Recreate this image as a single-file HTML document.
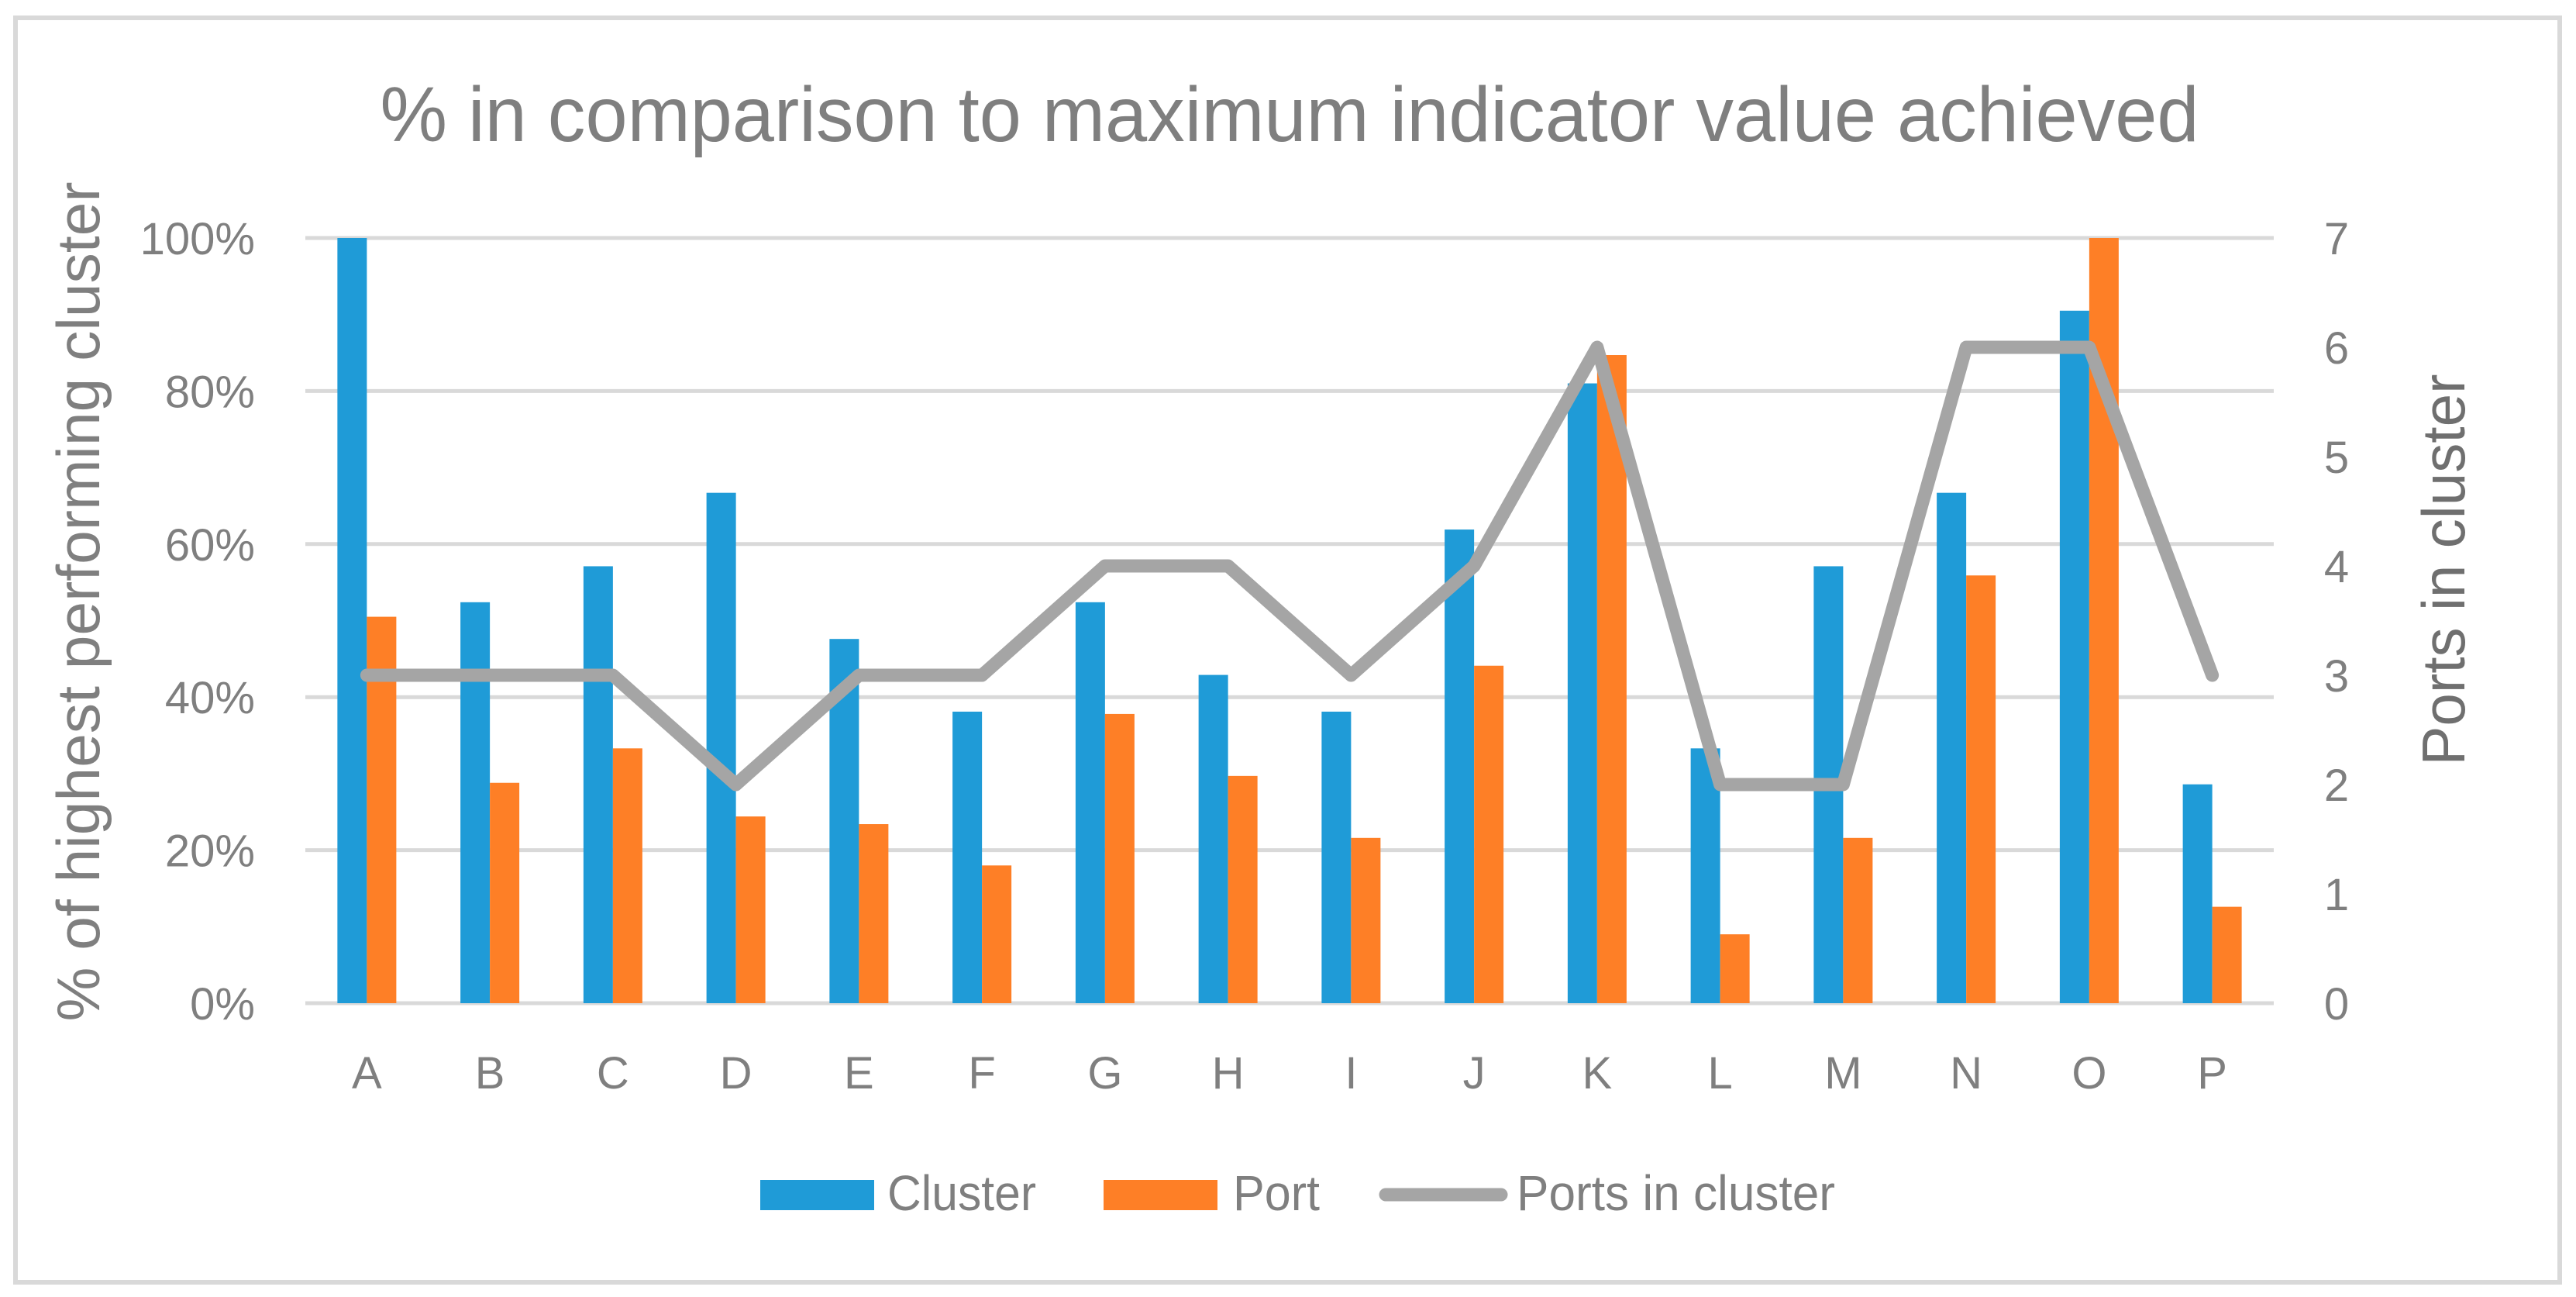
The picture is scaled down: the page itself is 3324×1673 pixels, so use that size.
<!DOCTYPE html>
<html><head><meta charset="utf-8"><style>
html,body{margin:0;padding:0;background:#fff;}
svg{display:block;}
text{font-family:"Liberation Sans Narrow","Liberation Sans",sans-serif;fill:#7f7f7f;}
.tick{font-family:"Liberation Sans",sans-serif;font-size:58px;}
</style></head><body>
<svg id="chart" width="3324" height="1673" viewBox="0 0 3324 1673" xmlns="http://www.w3.org/2000/svg">
<rect x="20" y="23" width="3283" height="1631" fill="#fff" stroke="#d9d9d9" stroke-width="6"/>
<text x="1664" y="182" text-anchor="middle" font-size="100" textLength="2347" lengthAdjust="spacingAndGlyphs">% in comparison to maximum indicator value achieved</text>
<g id="grid"></g>
<g id="bars"></g>
<g id="line"></g>
<g id="ticks"></g>
<text transform="translate(128,776) rotate(-90)" text-anchor="middle" font-size="78" textLength="1083" lengthAdjust="spacingAndGlyphs">%  of highest performing cluster</text>
<text transform="translate(3180,735) rotate(-90)" text-anchor="middle" font-size="78" textLength="505" lengthAdjust="spacingAndGlyphs" style="fill:#6f6f6f">Ports in cluster</text>
<g>
<rect x="981" y="1522" width="147" height="39" fill="#1f9bd7"/>
<text x="1145" y="1561" font-size="64" textLength="192" lengthAdjust="spacingAndGlyphs">Cluster</text>
<rect x="1424" y="1522" width="147" height="39" fill="#fe7f26"/>
<text x="1591" y="1561" font-size="64" textLength="112" lengthAdjust="spacingAndGlyphs">Port</text>
<line x1="1788" y1="1541" x2="1937" y2="1541" stroke="#a5a5a5" stroke-width="17" stroke-linecap="round"/>
<text x="1957" y="1561" font-size="64" textLength="411" lengthAdjust="spacingAndGlyphs">Ports in cluster</text>
</g>
</svg>
<script>
const categories = ["A","B","C","D","E","F","G","H","I","J","K","L","M","N","O","P"];
const clusterValues = [100,52.4,57.1,66.7,47.6,38.1,52.4,42.9,38.1,61.9,81,33.3,57.1,66.7,90.5,28.6];
const portValues = [50.5,28.8,33.3,24.4,23.4,18,37.8,29.7,21.6,44.1,84.7,9,21.6,55.9,100,12.6];
const portsInCluster = [3,3,3,2,3,3,4,4,3,4,6,2,2,6,6,3];
const yTicks = [0,20,40,60,80,100];
const y2Ticks = [0,1,2,3,4,5,6,7];

const NS = "http://www.w3.org/2000/svg";
const L = 394, R = 2934, T = 307, B = 1294;
const band = (R - L) / categories.length;
const xc = i => L + band * (i + 0.5);
const y = v => B - (v / 100) * (B - T);
const y2 = v => B - (v / 7) * (B - T);
function mk(tag, attrs, parent) {
  const e = document.createElementNS(NS, tag);
  for (const k in attrs) e.setAttribute(k, attrs[k]);
  parent.appendChild(e);
  return e;
}
const grid = document.getElementById('grid');
const bars = document.getElementById('bars');
const lineG = document.getElementById('line');
const ticks = document.getElementById('ticks');

yTicks.forEach(t => {
  const g = mk('line', {x1: L, x2: R, y1: y(t), y2: y(t), stroke: '#d9d9d9', 'stroke-width': 5}, grid);
  
  
  const tx = mk('text', {x: 329, y: y(t) + 21, 'text-anchor': 'end', class: 'tick'}, ticks);
  tx.textContent = t + '%';
  
  
});
y2Ticks.forEach(t => {
  const tx = mk('text', {x: 3015, y: y2(t) + 21, 'text-anchor': 'middle', class: 'tick'}, ticks);
  tx.textContent = t;
  
  
});
const bw = 38;
categories.forEach((c, i) => {
  const b1 = mk('rect', {x: xc(i) - bw, y: y(clusterValues[i]), width: bw, height: B - y(clusterValues[i]), fill: '#1f9bd7'}, bars);
  
  
  const b2 = mk('rect', {x: xc(i), y: y(portValues[i]), width: bw, height: B - y(portValues[i]), fill: '#fe7f26'}, bars);
  
  
  const tx = mk('text', {x: xc(i), y: 1404, 'text-anchor': 'middle', class: 'tick'}, ticks);
  tx.textContent = c;
  
  
});
const pts = portsInCluster.map((v, i) => xc(i) + ',' + y2(v)).join(' ');
const pl = mk('polyline', {points: pts, fill: 'none', stroke: '#a5a5a5', 'stroke-width': 17, 'stroke-linecap': 'round', 'stroke-linejoin': 'round'}, lineG);


</script>
</body></html>
